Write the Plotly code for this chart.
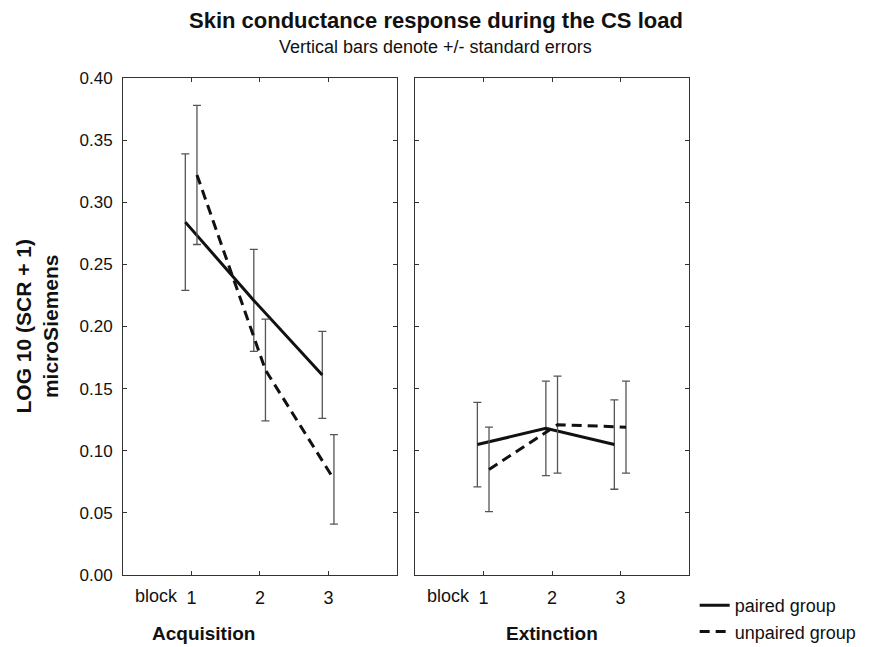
import plotly.graph_objects as go
from plotly.subplots import make_subplots

# data
blocks = [1, 2, 3]
block_labels = ["1", "2", "3"]

acq_paired = [0.284, 0.221, 0.161]
acq_paired_se = [0.055, 0.041, 0.035]
acq_unpaired = [0.322, 0.165, 0.077]
acq_unpaired_se = [0.056, 0.041, 0.036]

ext_paired = [0.105, 0.118, 0.105]
ext_paired_se = [0.034, 0.038, 0.036]
ext_unpaired = [0.085, 0.121, 0.119]
ext_unpaired_se = [0.034, 0.039, 0.037]

y_ticks = [0.00, 0.05, 0.10, 0.15, 0.20, 0.25, 0.30, 0.35, 0.40]

FONT = "Arial, Liberation Sans, sans-serif"
INK = "#111111"
shift_p, shift_u = -0.09, 0.08

fig = make_subplots(rows=1, cols=2, shared_yaxes=False, horizontal_spacing=0.032)


def add_series(vals, se, shift, dash, name, col, show):
    fig.add_trace(go.Scatter(
        x=[b + shift for b in blocks], y=vals, mode="lines", name=name,
        showlegend=show, legendgroup=name,
        line=dict(color=INK, width=3, dash=dash),
        error_y=dict(type="data", array=se, visible=True, color="#555555",
                     thickness=1.3, width=4),
    ), row=1, col=col)


add_series(acq_paired, acq_paired_se, shift_p, "solid", "paired group", 1, True)
add_series(acq_unpaired, acq_unpaired_se, shift_u, "10px,6px", "unpaired group", 1, True)
add_series(ext_paired, ext_paired_se, shift_p, "solid", "paired group", 2, False)
add_series(ext_unpaired, ext_unpaired_se, shift_u, "10px,6px", "unpaired group", 2, False)

axis_common = dict(showline=True, linecolor="#333333", linewidth=1, mirror="ticks",
                   ticks="inside", ticklen=4, tickcolor="#333333", showgrid=False,
                   zeroline=False, tickfont=dict(family=FONT, size=18, color=INK))

for c in (1, 2):
    fig.update_xaxes(range=[0, 4], tickvals=blocks, ticktext=block_labels,
                     ticklabelstandoff=6, row=1, col=c, **axis_common)
    fig.update_yaxes(range=[0, 0.40], tickvals=y_ticks, row=1, col=c, **axis_common)

fig.update_yaxes(tickformat=".2f", tickfont=dict(size=17), ticklabelstandoff=6, row=1, col=1)
fig.update_yaxes(showticklabels=False, row=1, col=2)


def label(text, xref, x, yshift, size, **kw):
    return dict(text=text, xref=xref, yref="paper", x=x, y=0, yshift=yshift,
                yanchor="middle", showarrow=False,
                font=dict(family=FONT, size=size, color=INK), **kw)


annotations = [
    dict(text="<b>Skin conductance response during the CS load</b>", xref="paper", yref="paper",
         x=0.553, y=1, yshift=58, xanchor="center", yanchor="middle", showarrow=False,
         font=dict(family=FONT, size=22, color=INK)),
    dict(text="Vertical bars denote +/- standard errors", xref="paper", yref="paper",
         x=0.553, y=1, yshift=31, xanchor="center", yanchor="middle", showarrow=False,
         font=dict(family=FONT, size=18, color=INK)),
    dict(text="<b>LOG 10 (SCR + 1)<br>microSiemens</b>", xref="paper", yref="paper",
         x=0, y=0.5, xshift=-87, xanchor="center", yanchor="middle", textangle=-90,
         showarrow=False, font=dict(family=FONT, size=21, color=INK)),
    label("block", "x", 0.83, -21, 18, xanchor="right"),
    label("block", "x2", 0.83, -21, 18, xanchor="right"),
    label("<b>Acquisition</b>", "x", 1.17, -58, 19, xanchor="center"),
    label("<b>Extinction</b>", "x2", 2.0, -58, 19, xanchor="center"),
]

# page body adds an 8px offset, so the figure is drawn 8px smaller
fig.update_layout(
    width=861, height=639,
    margin=dict(l=115, r=180, t=70, b=72, autoexpand=False),
    paper_bgcolor="white", plot_bgcolor="white",
    annotations=annotations,
    legend=dict(x=1.01, y=-0.024, xanchor="left", yanchor="top",
                font=dict(family=FONT, size=18, color=INK),
                tracegroupgap=0, itemwidth=30, bgcolor="rgba(0,0,0,0)"),
)

fig.write_html("out.html")
